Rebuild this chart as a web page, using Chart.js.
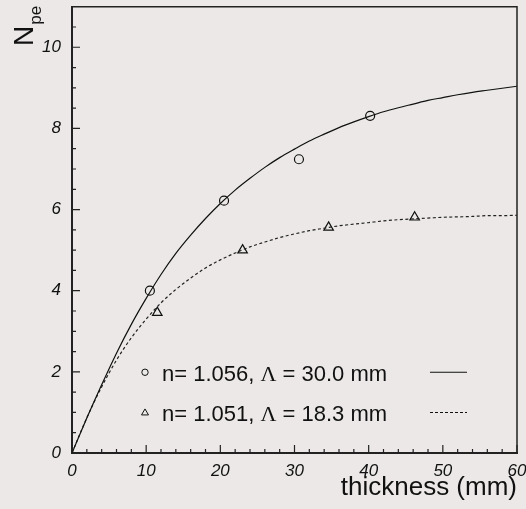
<!DOCTYPE html>
<html>
<head>
<meta charset="utf-8">
<script src="https://cdn.jsdelivr.net/npm/chart.js@4/dist/chart.umd.min.js"></script>
<style>
  html, body { margin: 0; padding: 0; background: #ebe8e7; }
  #wrap { width: 526px; height: 509px; }
</style>
</head>
<body>
<div id="wrap"><canvas id="npe"></canvas></div>
<script>
'use strict';

// measured photoelectrons vs aerogel thickness
var circX = [10.5, 20.5, 30.6, 40.2]
var circY = [4.0, 6.22, 7.24, 8.31]
var triX = [11.5, 23.0, 34.6, 46.2]
var triY = [3.46, 5.0, 5.56, 5.81]

// fitted curves, read every 2 mm
var fitX = [0, 2, 4, 6, 8, 10, 12, 14, 16, 18, 20, 22, 24, 26, 28, 30,
	32, 34, 36, 38, 40, 42, 44, 46, 48, 50, 52, 54, 56, 58, 60]
var fitSolid = [0, 0.86, 1.68, 2.46, 3.17, 3.81, 4.40, 4.92, 5.37, 5.78, 6.15,
	6.48, 6.77, 7.04, 7.28, 7.49, 7.69, 7.86, 8.02, 8.16, 8.29, 8.41, 8.51,
	8.60, 8.69, 8.76, 8.83, 8.89, 8.94, 8.99, 9.04]
var fitDashed = [0, 0.87, 1.63, 2.29, 2.84, 3.30, 3.70, 4.03, 4.31, 4.56, 4.76,
	4.93, 5.08, 5.20, 5.31, 5.40, 5.48, 5.54, 5.60, 5.64, 5.68, 5.72, 5.75,
	5.77, 5.79, 5.81, 5.82, 5.83, 5.85, 5.85, 5.86]

var xTicks = [0, 10, 20, 30, 40, 50, 60]
var yTicks = [0, 2, 4, 6, 8, 10]
var legendLabels = ['n= 1.056, \u039B = 30.0 mm', 'n= 1.051, \u039B = 18.3 mm']

const pts = (xs, ys) => xs.map((x, i) => ({x: x, y: ys[i]}))
const sans = '"Liberation Sans", Arial, sans-serif'
const ink = '#111'

// inner ticks, top/right frame, legend and axis titles
var decor = {
	id: 'decor',
	afterDraw(chart) {
		var ctx = chart.ctx, a = chart.chartArea
		var xs = chart.scales.x, ys = chart.scales.y
		ctx.save()
		ctx.strokeStyle = '#222'
		ctx.lineWidth = 1.5
		ctx.beginPath()
		ctx.moveTo(a.left, a.top); ctx.lineTo(a.right, a.top); ctx.lineTo(a.right, a.bottom)
		ctx.stroke()

		ctx.lineWidth = 1.2
		ctx.beginPath()
		for (var v = 0; v <= 60; v += 2) {
			var px = xs.getPixelForValue(v)
			var len = v % 10 === 0 ? 8 : 4
			ctx.moveTo(px, a.bottom); ctx.lineTo(px, a.bottom - len)
		}
		for (var w = 0; w <= 10.5; w += 0.5) {
			var py = ys.getPixelForValue(w)
			var l2 = w % 2 === 0 ? 8 : 4
			ctx.moveTo(a.left, py); ctx.lineTo(a.left + l2, py)
		}
		ctx.stroke()

		// legend
		var rows = [ys.getPixelForValue(1.99), ys.getPixelForValue(1.0)]
		rows.forEach((ry, i) => {
			ctx.strokeStyle = ink
			ctx.lineWidth = 1
			ctx.setLineDash([])
			ctx.beginPath()
			if (i === 0) {
				ctx.arc(145, ry, 3.2, 0, Math.PI * 2)
			} else {
				ctx.moveTo(145, ry - 3.5); ctx.lineTo(148.5, ry + 2.5); ctx.lineTo(141.5, ry + 2.5); ctx.closePath()
			}
			ctx.stroke()

			ctx.fillStyle = ink
			ctx.textBaseline = 'alphabetic'
			ctx.textAlign = 'left'
			var parts = legendLabels[i].split('\u039B')
			var tx = 162, by = ry + 9
			ctx.font = '22px ' + sans
			ctx.fillText(parts[0], tx, by)
			tx += ctx.measureText(parts[0]).width
			ctx.font = '22px "Liberation Serif", serif'
			ctx.fillText('\u039B', tx, by)
			tx += ctx.measureText('\u039B').width
			ctx.font = '22px ' + sans
			ctx.fillText(parts[1], tx, by)

			ctx.lineWidth = 1.1
			ctx.setLineDash(i === 0 ? [] : [3, 2])
			ctx.beginPath()
			ctx.moveTo(430, ry); ctx.lineTo(467, ry)
			ctx.stroke()
		})
		ctx.setLineDash([])

		// x title
		ctx.fillStyle = ink
		ctx.font = '26px ' + sans
		ctx.textAlign = 'right'
		ctx.fillText('thickness (mm)', a.right, 495)

		// y title, rotated
		ctx.translate(33, 46)
		ctx.rotate(-Math.PI / 2)
		ctx.textAlign = 'left'
		ctx.font = '28px ' + sans
		ctx.fillText('N', 0, 0)
		var nw = ctx.measureText('N').width
		ctx.font = '17px ' + sans
		ctx.fillText('pe', nw + 1, 8)
		ctx.restore()
	}
}

new Chart(document.getElementById('npe').getContext('2d'), {
	type: 'scatter',
	data: {
		datasets: [
			{data: pts(fitX, fitSolid), showLine: true, borderColor: ink, borderWidth: 1.2,
				pointRadius: 0, cubicInterpolationMode: 'monotone'},
			{data: pts(fitX, fitDashed), showLine: true, borderColor: '#222', borderWidth: 1.2,
				borderDash: [3, 2.5], pointRadius: 0, cubicInterpolationMode: 'monotone'},
			{data: pts(circX, circY), pointStyle: 'circle', pointRadius: 4.5,
				borderColor: ink, borderWidth: 1.2, backgroundColor: 'rgba(0,0,0,0)'},
			{data: pts(triX, triY), pointStyle: 'triangle', pointRadius: 5.5,
				borderColor: ink, borderWidth: 1.2, backgroundColor: 'rgba(0,0,0,0)'}
		]
	},
	options: {
		responsive: true,
		maintainAspectRatio: false,
		animation: false,
		layout: {padding: {top: 5, right: 9, left: 0, bottom: 0}},
		plugins: {legend: {display: false}, tooltip: {enabled: false}},
		scales: {
			x: {
				type: 'linear', min: 0, max: 60,
				grid: {display: false, drawTicks: false},
				border: {display: true, color: '#222', width: 2},
				ticks: {padding: 8, color: ink, maxRotation: 0,
					font: {family: sans, size: 17, style: 'italic'}},
				afterBuildTicks: (s) => { s.ticks = xTicks.map((v) => ({value: v})) },
				afterFit: (s) => { s.height = 56; s.paddingLeft = 0; s.paddingRight = 0 }
			},
			y: {
				type: 'linear', min: 0, max: 11,
				grid: {display: false, drawTicks: false},
				border: {display: true, color: '#222', width: 2},
				ticks: {padding: 11, color: ink,
					font: {family: sans, size: 17, style: 'italic'}},
				afterBuildTicks: (s) => { s.ticks = yTicks.map((v) => ({value: v})) },
				afterFit: (s) => { s.width = 72; s.paddingTop = 0; s.paddingBottom = 0 }
			}
		}
	},
	plugins: [decor]
})
</script>
</body>
</html>
